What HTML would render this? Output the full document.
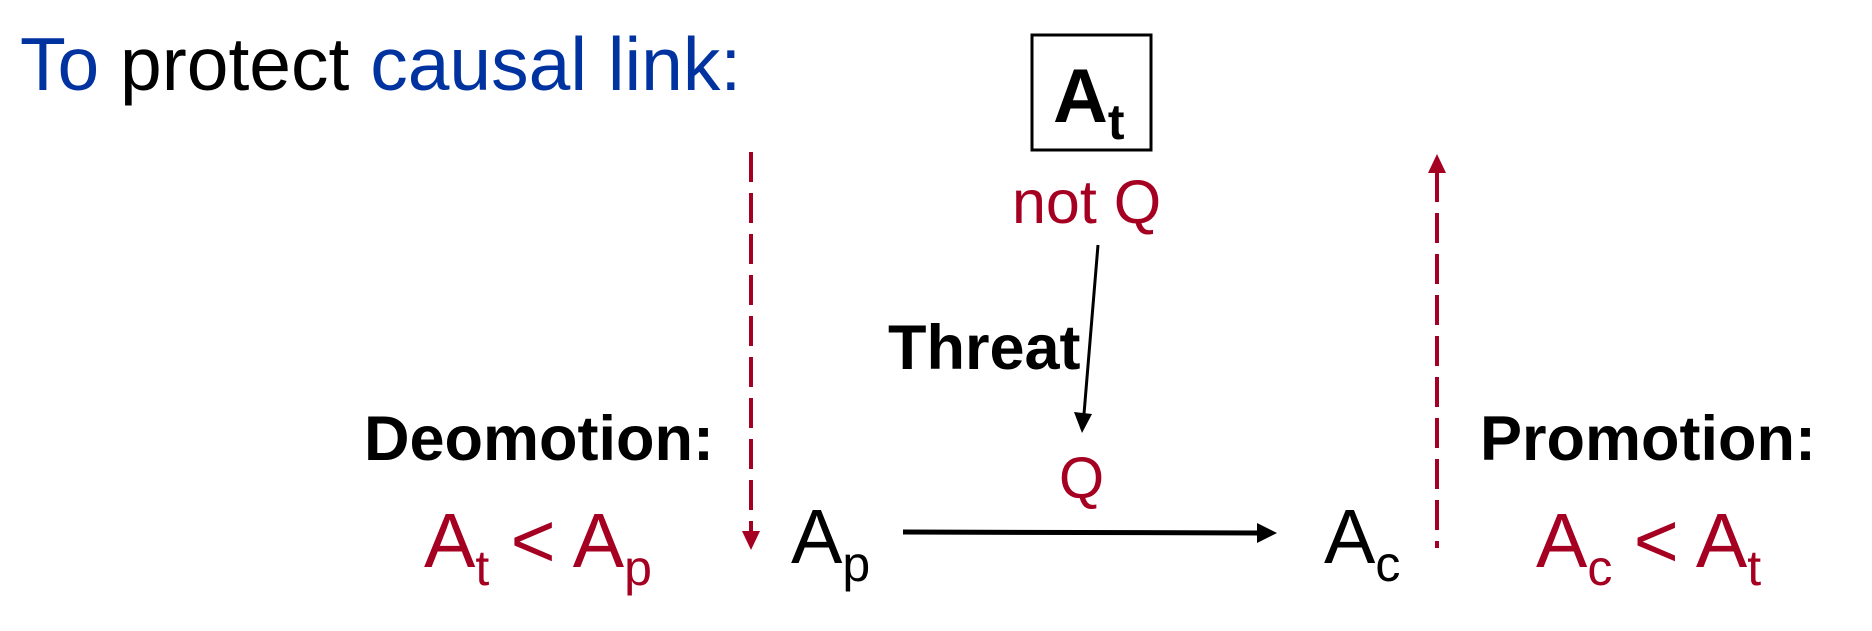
<!DOCTYPE html>
<html><head><meta charset="utf-8"><style>
html,body{margin:0;padding:0;background:#fff;}
svg{display:block;}
text{font-family:"Liberation Sans",Arial,sans-serif;}
</style></head><body>
<svg width="1872" height="631" viewBox="0 0 1872 631" xmlns="http://www.w3.org/2000/svg">
<text x="20" y="90" font-size="75" fill="#000"><tspan fill="#0033a0">To</tspan> protect <tspan fill="#0033a0">causal link:</tspan></text>

<rect x="1032" y="35" width="119" height="115" fill="none" stroke="#000" stroke-width="3"/>
<text x="1053" y="122" font-size="76" font-weight="bold">A<tspan font-size="50" dy="17">t</tspan></text>

<text x="1012" y="223" font-size="61" fill="#a50021">not Q</text>

<line x1="1098" y1="245" x2="1084" y2="414" stroke="#000" stroke-width="3"/>
<polygon points="1074,412 1092,414 1082,433" fill="#000"/>
<text x="888" y="369" font-size="63" font-weight="bold">Threat</text>

<text x="1059" y="498" font-size="58" fill="#a50021">Q</text>

<line x1="903" y1="532" x2="1260" y2="533" stroke="#000" stroke-width="5"/>
<polygon points="1257,523 1277,533 1257,543" fill="#000"/>

<text x="364" y="460" font-size="63" font-weight="bold">Deomotion:</text>
<text x="1480" y="460" font-size="63" font-weight="bold">Promotion:</text>

<text x="424" y="567" font-size="77" fill="#a50021">A<tspan font-size="50" dy="18">t</tspan><tspan dy="-18"> &lt; A</tspan><tspan font-size="50" dy="18">p</tspan></text>
<text x="1536" y="567" font-size="77" fill="#a50021">A<tspan font-size="50" dy="18">c</tspan><tspan dy="-18"> &lt; A</tspan><tspan font-size="50" dy="18">t</tspan></text>

<text x="791" y="563" font-size="77" fill="#000">A<tspan font-size="50" dy="18">p</tspan></text>
<text x="1324" y="563" font-size="77" fill="#000">A<tspan font-size="50" dy="18">c</tspan></text>

<line x1="751" y1="152" x2="751" y2="532" stroke="#a50021" stroke-width="4" stroke-dasharray="30,11"/>
<polygon points="742,531 760,531 751,550" fill="#a50021"/>

<line x1="1437" y1="172" x2="1437" y2="548" stroke="#a50021" stroke-width="4" stroke-dasharray="30,11"/>
<polygon points="1428,173 1446,173 1437,154" fill="#a50021"/>
</svg>
</body></html>
